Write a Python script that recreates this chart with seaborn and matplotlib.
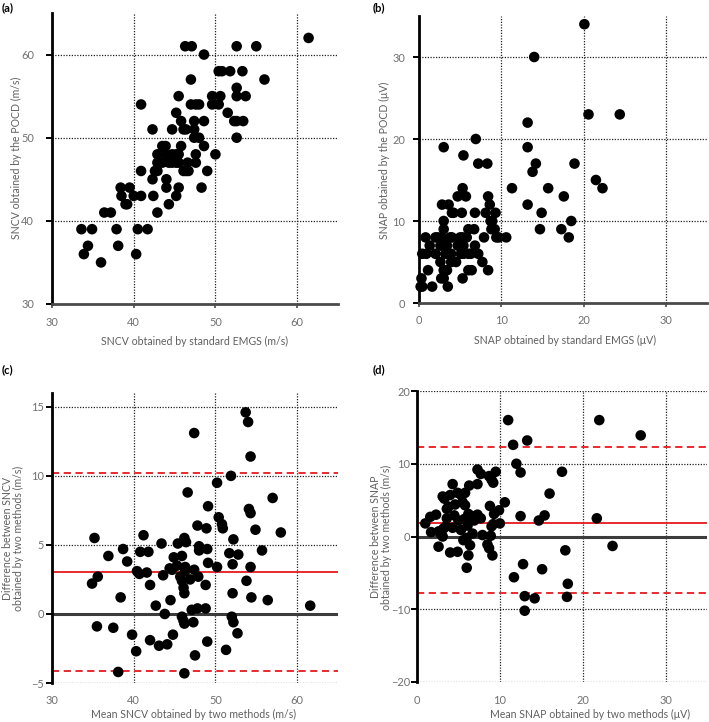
import numpy as np
import pandas as pd
import matplotlib
matplotlib.use("Agg")
import matplotlib.pyplot as plt
import seaborn as sns

# ---------------- data ----------------
# Panel (a): SNCV standard EMGS (x) vs POCD (y)
a_groups = {
    62: [61.4],
    61: [55.0, 52.6, 46.3, 47.1],
    60: [48.6],
    58: [50.4, 50.8, 51.8, 53.3],
    57: [56.0, 47.0],
    56: [52.6],
    55: [45.5, 49.6, 50.6, 52.6, 53.7],
    54: [40.9, 47.0, 47.6, 48.0, 49.6, 50.4],
    53: [45.2, 51.5],
    52: [45.8, 47.4, 48.6, 52.3, 52.6, 53.4],
    51: [42.3, 44.7, 46.1, 46.4, 47.4],
    50: [47.4, 48.0, 52.6],
    49: [43.5, 43.9, 45.8, 48.6],
    48: [42.9, 43.9, 44.7, 45.2, 45.5, 47.6, 50.0],
    47: [42.9, 43.5, 44.3, 44.7, 45.2, 45.5, 46.6, 47.6],
    46: [40.9, 42.6, 42.9, 46.1, 46.4, 46.7, 49.0],
    45: [42.3, 44.0],
    44: [38.4, 39.5, 44.0, 45.5, 48.3],
    43: [38.5, 40.0, 40.9, 42.4, 45.2],
    42: [39.0, 39.2, 44.3],
    41: [36.4, 37.2, 42.9],
    39: [33.6, 34.9, 37.9, 40.5, 41.7],
    37: [34.4, 38.1],
    36: [33.9, 40.3],
    35: [36.0],
}
sncv_emgs = [x for y, xs in a_groups.items() for x in xs]
sncv_pocd = [y for y, xs in a_groups.items() for x in xs]

# Panel (b): SNAP standard EMGS (x) vs POCD (y)
b_groups = {
    34: [20.1],
    30: [14.0],
    23: [20.6, 24.4],
    22: [13.2],
    20: [6.9],
    19: [3.0, 13.2],
    18: [5.4],
    17: [7.2, 8.3, 14.2, 18.9],
    16: [13.8],
    15: [21.5],
    14: [5.3, 11.3, 15.7, 22.3],
    13: [4.7, 5.7, 8.4, 17.6],
    12: [2.8, 3.6, 8.6, 13.2],
    11: [4.0, 4.2, 5.2, 6.8, 8.1, 9.3, 14.9],
    10: [3.0, 8.7, 8.9, 18.5],
    9: [3.0, 6.0, 6.7, 8.8, 9.2, 14.7, 17.3],
    8: [0.8, 2.0, 2.3, 2.8, 3.8, 4.0, 5.0, 5.3, 5.8, 7.9, 9.4, 9.7, 10.6, 18.2],
    7: [1.3, 2.6, 3.4, 4.7, 5.4, 6.8],
    6: [0.4, 0.9, 2.0, 3.2, 3.4, 3.9, 5.1, 5.4, 6.0, 6.3, 7.2],
    5: [2.6, 3.9, 4.5, 7.7],
    4: [1.1, 3.0, 3.4, 6.0, 6.4, 8.4],
    3: [0.3, 2.7, 3.0, 5.3],
    2: [0.2, 0.4, 1.6, 3.5],
}
snap_emgs = [x for y, xs in b_groups.items() for x in xs]
snap_pocd = [y for y, xs in b_groups.items() for x in xs]

# Panel (c): Bland-Altman SNCV
sncv_mean = [53.7, 54.0, 47.4, 54.3, 51.9, 50.2, 46.6, 57.0, 49.1, 54.1, 54.3, 50.4,
             50.8, 50.9, 47.8, 48.9, 54.9, 58.0, 41.2, 35.2, 46.2, 46.4, 52.2, 43.4,
             45.4, 48.0, 49.0, 48.0, 38.7, 55.7, 40.8, 41.8, 51.7, 52.8, 36.9, 45.9,
             44.9, 39.2, 49.1, 52.1, 45.3, 46.3, 50.2, 54.3, 44.4, 44.7, 47.4, 40.4,
             40.7, 41.6, 46.3, 43.6, 35.6, 45.7, 45.9, 47.9, 46.9, 34.9, 53.8, 42.0,
             48.8, 46.1, 46.2, 52.1, 38.4, 54.4, 56.4, 44.5, 42.7, 61.6, 47.1, 47.8,
             48.8, 43.8, 45.9, 46.1, 52.0, 52.2, 46.2, 47.3, 35.5, 37.5, 39.8, 44.8,
             52.7, 42.0, 43.1, 44.1, 49.0, 51.3, 40.3, 47.5, 38.1, 46.2]
sncv_diff = [14.6, 13.9, 13.1, 11.4, 10.0, 9.5, 8.8, 8.4, 7.8, 7.6, 7.3, 7.0,
             6.5, 6.2, 6.4, 6.2, 6.1, 5.9, 5.7, 5.5, 5.5, 5.2, 5.4, 5.1,
             5.1, 4.9, 4.7, 4.6, 4.7, 4.6, 4.5, 4.5, 4.4, 4.3, 4.2, 4.2,
             4.1, 3.8, 3.7, 3.6, 3.5, 3.4, 3.4, 3.4, 3.3, 3.2, 3.2, 3.1,
             2.9, 3.0, 3.1, 2.8, 2.7, 2.7, 2.4, 2.7, 2.5, 2.2, 2.4, 2.1,
             2.1, 1.9, 1.5, 1.5, 1.2, 1.2, 1.0, 1.0, 0.6, 0.6, 0.3, 0.4,
             0.4, 0.0, -0.2, -0.5, -0.2, -0.6, -0.7, -0.6, -0.9, -1.0, -1.5, -1.5,
             -1.4, -1.9, -2.3, -2.2, -2.0, -2.6, -2.7, -3.0, -4.2, -4.3]
sncv_bias = 3.05
sncv_loa = [10.2, -4.1]

# Panel (d): Bland-Altman SNAP
snap_mean = [11.0, 22.0, 27.0, 13.3, 11.6, 12.0, 12.5, 17.5, 7.3, 9.5, 7.7, 8.7,
             9.0, 9.2, 7.3, 4.3, 6.3, 16.0, 4.9, 5.4, 5.8, 3.1, 3.3, 4.0,
             5.5, 10.6, 4.6, 5.8, 8.8, 3.8, 3.6, 9.9, 9.3, 15.4, 12.5, 4.5,
             6.2, 6.7, 7.3, 7.7, 2.3, 1.6, 3.6, 21.7, 5.0, 5.7, 14.7, 6.9,
             1.0, 10.0, 9.2, 6.1, 9.0, 3.5, 4.3, 3.2, 5.3, 1.7, 2.6, 2.9,
             6.7, 7.9, 8.9, 3.1, 6.0, 5.6, 23.6, 6.4, 8.5, 8.7, 2.6, 17.9,
             4.0, 4.9, 9.1, 6.2, 12.8, 6.0, 15.1, 11.7, 18.2, 13.0, 14.2, 18.1,
             13.0]
snap_diff = [16.0, 16.0, 13.9, 13.2, 12.6, 10.0, 8.8, 8.9, 9.2, 8.9, 8.6, 8.3,
             7.8, 7.4, 7.2, 7.2, 7.0, 5.9, 6.0, 5.6, 6.0, 5.5, 5.2, 5.7,
             4.7, 4.7, 4.4, 4.3, 4.2, 4.1, 3.8, 3.6, 3.1, 2.9, 2.8, 2.9,
             3.1, 2.8, 3.0, 2.5, 3.0, 2.7, 2.5, 2.5, 2.2, 2.4, 2.2, 2.2,
             1.8, 1.8, 1.7, 1.5, 1.4, 1.4, 1.2, 1.1, 0.9, 0.6, 0.7, 0.3,
             0.4, 0.2, 0.1, 0.0, -0.2, -0.5, -1.3, -1.2, -1.1, -1.6, -1.4, -1.9,
             -2.2, -2.1, -2.6, -2.6, -3.8, -4.3, -4.5, -5.6, -6.5, -8.2, -8.5, -8.3,
             -10.2]
snap_bias = 1.83
snap_loa = [12.3, -7.7]

# ---------------- style ----------------
sns.set_theme(style="white")
plt.rcParams["font.family"] = ["Lato", "DejaVu Sans"]
TICK_C = "#707070"
LAB_C = "#606060"
FS_TICK = 7.9
FS_LAB = 7.6

W, H = 709, 722
fig = plt.figure(figsize=(W / 100, H / 100), dpi=100)


def box(l, t, r, b):
    return [l / W, (H - b) / H, (r - l) / W, (b - t) / H]


def style_axes(ax, xlim, ylim, xticks, yticks, bottom_spine, ypad, xpad):
    ax.set_xlim(*xlim)
    ax.set_ylim(*ylim)
    ax.set_xticks(xticks)
    ax.set_yticks(yticks)
    ax.grid(True, color="#222222", linestyle=(0, (1, 1.2)), linewidth=0.9, zorder=0)
    ax.set_axisbelow(True)
    for s in ["top", "right"]:
        ax.spines[s].set_visible(False)
    ax.spines["left"].set_color("black")
    ax.spines["left"].set_linewidth(2.0)
    if bottom_spine:
        ax.spines["bottom"].set_color("#4a4a4a")
        ax.spines["bottom"].set_linewidth(2.0)
    else:
        ax.spines["bottom"].set_visible(False)
    ax.tick_params(axis="y", left=True, length=4, width=1.4, color="black",
                   labelsize=FS_TICK, labelcolor=TICK_C, pad=ypad)
    ax.tick_params(axis="x", bottom=bottom_spine, length=3, width=1.2, color="#4a4a4a",
                   labelsize=FS_TICK, labelcolor=TICK_C, pad=xpad)


def scatter(ax, x, y):
    df = pd.DataFrame({"x": x, "y": y})
    sns.scatterplot(data=df, x="x", y="y", ax=ax, color="black", s=58,
                    edgecolor="none", linewidth=0, zorder=3, clip_on=False)
    ax.set_xlabel("")
    ax.set_ylabel("")


def label(x, y, txt, rot=0):
    fig.text(x / W, 1 - y / H, txt, fontsize=FS_LAB, color=LAB_C, rotation=rot,
             ha="center", va="center", linespacing=1.1)


# (a)
axa = fig.add_axes(box(52, 13, 338, 304))
scatter(axa, sncv_emgs, sncv_pocd)
style_axes(axa, (30, 65), (30, 65), [30, 40, 50, 60], [30, 40, 50, 60], True, 9, 6)
label(195, 341, "SNCV obtained by standard EMGS (m/s)")
label(16, 158, "SNCV obtained by the POCD (m/s)", 90)

# (b)
axb = fig.add_axes(box(419, 16, 707, 303))
scatter(axb, snap_emgs, snap_pocd)
style_axes(axb, (0, 35), (0, 35), [0, 10, 20, 30], [0, 10, 20, 30], True, 6, 6)
label(565, 340, "SNAP obtained by standard EMGS (\u03bcV)")
label(384, 160, "SNAP obtained by the POCD (\u03bcV)", 90)

# (c)
axc = fig.add_axes(box(52, 393, 338, 683))
axc.axhline(0, color="#3c3c3c", linewidth=2.2, zorder=1)
axc.axhline(sncv_bias, color="#e8191c", linewidth=1.3, zorder=2)
for v in sncv_loa:
    axc.axhline(v, color="#e8191c", linewidth=1.3, linestyle=(0, (4, 2.5)), zorder=2)
scatter(axc, sncv_mean, sncv_diff)
style_axes(axc, (30, 65), (-5, 16), [30, 40, 50, 60], [-5, 0, 5, 10, 15], False, 2, 6)
label(194, 714, "Mean SNCV obtained by two methods (m/s)")
label(13, 538, "Difference between SNCV\nobtained by two methods (m/s)", 90)

# (d)
axd = fig.add_axes(box(417, 391, 707, 682))
axd.axhline(0, color="#3c3c3c", linewidth=2.2, zorder=1)
axd.axhline(snap_bias, color="#e8191c", linewidth=1.3, zorder=2)
for v in snap_loa:
    axd.axhline(v, color="#e8191c", linewidth=1.3, linestyle=(0, (4, 2.5)), zorder=2)
scatter(axd, snap_mean, snap_diff)
style_axes(axd, (0, 35), (-20, 20), [0, 10, 20, 30], [-20, -10, 0, 10, 20], False, 1, 6)
label(590, 714, "Mean SNAP obtained by two methods (\u03bcV)")
label(381, 537, "Difference between SNAP\nobtained by two methods (m/s)", 90)

# panel letters
for txt, x, y in [("(a)", 2, 2), ("(b)", 373, 2), ("(c)", 2, 364), ("(d)", 373, 364)]:
    fig.text(x / W, 1 - y / H, txt, fontsize=8, fontweight="bold", color="black",
             ha="left", va="top")

fig.savefig("out.png", dpi=100)
